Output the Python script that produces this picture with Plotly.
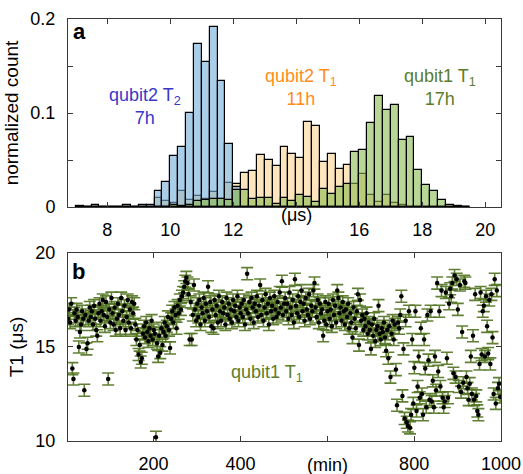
import numpy as np
import plotly.graph_objects as go

# ---------------- Data: histograms (bin width 0.25 us) ----------------
bin_left = [7.0 + 0.25 * k for k in range(50)]
# qubit2 T2 (blue)
hist_q2_t2 = [0.001, 0, 0.002, 0, 0, 0, 0.002, 0, 0.002, 0.002,
              0.017, 0.027, 0.054, 0.064, 0.100, 0.173, 0.154, 0.191, 0.134, 0.067,
              0.021, 0, 0, 0, 0, 0, 0, 0, 0, 0,
              0, 0, 0, 0, 0, 0, 0, 0, 0, 0,
              0, 0, 0, 0, 0, 0, 0, 0, 0, 0]
# qubit2 T1 (orange)
hist_q2_t1 = [0, 0, 0, 0, 0, 0, 0, 0, 0, 0,
              0.010, 0.006, 0.004, 0.017, 0.007, 0.012, 0.008, 0.016, 0.009, 0.026,
              0.024, 0.036, 0.038, 0.055, 0.050, 0.044, 0.064, 0.056, 0.052, 0.090,
              0.086, 0.048, 0.056, 0.040, 0.045, 0.025, 0.035, 0.013, 0.005, 0.013,
              0.004, 0.002, 0, 0, 0, 0, 0, 0, 0, 0]
# qubit1 T1 (green)
hist_q1_t1 = [0, 0, 0, 0, 0, 0, 0, 0, 0, 0,
              0, 0, 0.002, 0.001, 0.002, 0.006, 0.007, 0.009, 0.009, 0.007,
              0.018, 0.018, 0.0085, 0.010, 0.010, 0.003, 0.010, 0.006, 0.013, 0.011,
              0.005, 0.019, 0.014, 0.021, 0.025, 0.058, 0.061, 0.089, 0.118, 0.103,
              0.109, 0.071, 0.075, 0.039, 0.023, 0.017, 0.0075, 0.002, 0.001, 0]

# ---------------- Data: qubit1 T1 time trace ----------------
t_start, t_step = 3.0, 2.5
t1_values = [
    16.5, 17.0, 16.3, 17.3, 13.85, 13.3, 16.8, 16.4, 17.0, 16.6, 15.0, 15.8, 16.2, 16.9, 16.5, 12.7, 16.7, 14.9, 15.2, 16.4,
    17.1, 16.6, 16.9, 16.2, 17.2, 16.5, 15.9, 15.6, 16.8, 17.3, 16.4, 16.9, 17.5, 16.7, 16.1, 17.4, 16.6, 13.3, 17.0, 16.3,
    17.6, 16.8, 16.2, 17.1, 15.9, 16.5, 17.3, 16.7, 16.0, 17.6, 16.9, 16.4, 17.2, 15.9, 16.6, 17.5, 16.3, 17.0, 16.0, 17.4,
    16.8, 17.3, 16.2, 15.4, 15.9, 14.6, 15.1, 14.2, 14.4, 15.7, 16.1, 15.5, 16.3, 15.8, 15.3, 16.0, 15.6, 16.4, 15.4, 15.9,
    15.7, 10.2, 15.2, 14.5, 15.6, 14.7, 16.0, 15.1, 15.8, 16.3, 15.6, 16.1, 16.6, 15.9, 14.95, 16.5, 16.9, 16.3, 17.1, 16.7,
    16.0, 17.2, 16.8, 17.5, 17.0, 17.7, 17.9, 18.2, 18.5, 18.7, 18.4, 17.8, 15.4, 17.4, 15.4, 16.7, 18.3, 17.0, 16.4, 17.3,
    16.6, 17.5, 16.2, 17.1, 16.8, 17.6, 16.4, 17.3, 16.9, 18.2, 16.6, 17.4, 16.1, 17.0, 16.0, 17.5, 16.7, 17.2, 16.3, 17.7,
    16.9, 16.4, 17.4, 16.8, 17.1, 16.2, 17.6, 16.7, 17.3, 16.5, 17.0, 16.3, 17.5, 16.9, 17.2, 16.6, 17.7, 16.4, 17.1, 16.8,
    17.3, 16.6, 17.5, 16.2, 17.0, 18.9, 16.8, 17.4, 16.5, 17.6, 17.1, 16.3, 17.3, 16.9, 17.7, 16.6, 17.2, 18.3, 16.7, 17.5,
    16.4, 17.1, 17.8, 16.8, 17.3, 16.2, 17.6, 16.9, 17.2, 16.5, 17.7, 17.0, 16.6, 17.4, 16.8, 17.9, 17.1, 18.5, 16.7, 17.3,
    17.6, 16.9, 17.3, 16.5, 17.9, 17.1, 16.7, 17.5, 16.3, 18.6, 17.2, 16.8, 17.7, 16.6, 17.4, 18.0, 16.9, 17.3, 16.4, 17.6,
    17.0, 16.7, 17.8, 16.5, 17.2, 16.9, 18.0, 18.4, 17.1, 16.6, 17.5, 16.3, 17.3, 16.8, 17.0, 15.6, 16.4, 17.4, 16.2, 16.9,
    17.3, 16.5, 17.0, 16.1, 17.5, 16.7, 17.2, 16.3, 18.0, 17.6, 16.8, 17.1, 16.4, 17.4, 16.9, 16.2, 17.0, 16.6, 17.3, 16.0,
    16.8, 16.3, 15.5, 17.1, 16.5, 16.0, 16.9, 17.8, 15.1, 17.5, 16.4, 16.7, 15.9, 16.5, 16.1, 16.8, 15.7, 16.3, 15.9, 14.9,
    16.2, 15.6, 16.5, 15.3, 15.9, 16.1, 17.2, 15.7, 15.4, 16.0, 15.8, 16.3, 15.5, 14.8, 15.9, 14.4, 16.1, 13.4, 15.7, 16.4,
    15.4, 16.2, 13.8, 11.9, 16.3, 16.0, 16.7, 17.7, 12.4, 14.9, 11.2, 16.4, 11.0, 10.8, 16.9, 10.7, 11.4, 15.4, 12.0, 13.9,
    16.9, 11.6, 12.9, 14.5, 12.3, 16.0, 12.5, 11.4, 15.4, 13.85, 11.8, 16.7, 14.3, 12.2, 16.9, 12.1, 13.2, 11.8, 14.5, 12.7,
    18.4, 13.7, 16.9, 12.9, 18.0, 12.3, 11.8, 12.1, 17.9, 14.4, 12.3, 17.3, 18.1, 17.7, 18.4, 13.6, 18.8, 13.4, 18.6, 17.0,
    12.9, 18.3, 12.6, 15.8, 13.1, 18.5, 18.4, 13.4, 12.8, 12.2, 13.05, 14.5, 12.5, 15.6, 12.2, 17.8, 12.4, 11.6, 11.4, 14.1,
    17.9, 14.6, 16.9, 17.2, 14.5, 17.7, 16.1, 14.65, 17.5, 14.1, 17.8, 15.5, 12.5, 18.6, 12.0, 18.0, 12.8, 13.05, 12.35,
]
t1_err = 0.32
time_min = np.arange(len(t1_values)) * t_step + t_start

# ---------------- Styling ----------------
FONT = "Liberation Sans, Arial, Helvetica, sans-serif"
AX = "#3a3a3a"
centers = np.array(bin_left) + 0.125

fig = go.Figure()
series = [
    (hist_q2_t1, "rgba(250,210,143,0.6)", "qubit2 T1"),
    (hist_q2_t2, "rgba(113,173,217,0.6)", "qubit2 T2"),
    (hist_q1_t1, "rgba(137,187,80,0.6)", "qubit1 T1"),
]
for vals, col, name in series:
    fig.add_trace(go.Bar(
        x=centers, y=vals, width=0.25, name=name,
        marker=dict(color=col, line=dict(color="black", width=1.2)),
        xaxis="x", yaxis="y",
    ))

fig.add_trace(go.Scatter(
    x=time_min, y=t1_values, mode="markers", name="qubit1 T1 trace",
    marker=dict(color="black", size=4.5),
    error_y=dict(type="constant", value=t1_err, color="rgba(80,114,32,0.9)",
                 thickness=1.6, width=6),
    xaxis="x2", yaxis="y2",
))

common = dict(showline=True, linecolor=AX, linewidth=1, mirror="ticks",
              ticks="inside", ticklen=5, tickcolor=AX, showgrid=False,
              zeroline=False, automargin=False,
              tickfont=dict(family=FONT, size=18, color="black"))

fig.update_layout(
    width=523, height=474,
    margin=dict(l=68, r=22, t=19, b=33),
    paper_bgcolor="white", plot_bgcolor="white",
    barmode="overlay", bargap=0, showlegend=False,
    font=dict(family=FONT, size=18, color="black"),
    xaxis=dict(domain=[0, 1], anchor="y", range=[6.75, 20.5],
               tickvals=[8, 10, 12, 16, 18, 20],
               minor=dict(tickvals=[14], ticks="inside", ticklen=5, tickcolor=AX),
               ticklabelstandoff=6, **common),
    yaxis=dict(domain=[0.5545, 1], anchor="x", range=[0, 0.2],
               tickvals=[0, 0.1, 0.2], ticktext=["0", "0.1", "0.2"],
               minor=dict(tickvals=[0.05, 0.15], ticks="inside", ticklen=5, tickcolor=AX),
               ticklabelstandoff=8,
               title=dict(text="normalized count", font=dict(family=FONT, size=19), standoff=6),
               **common),
    xaxis2=dict(domain=[0, 1], anchor="y2", range=[3, 1000],
                tickvals=[200, 400, 800, 1000],
                minor=dict(tickvals=[600], ticks="inside", ticklen=5, tickcolor=AX),
                ticklabelstandoff=6, **common),
    yaxis2=dict(domain=[0, 0.4455], anchor="x2", range=[10, 20],
                tickvals=[10, 15, 20], ticklabelstandoff=8,
                title=dict(text="T1 (μs)", font=dict(family=FONT, size=19), standoff=6),
                **common),
)

ann = [
    dict(text="<b>a</b>", xref="x", yref="y", x=6.85, y=0.187, xanchor="left", yanchor="middle",
         font=dict(size=22, color="black")),
    dict(text="<b>b</b>", xref="x2", yref="y2", x=8, y=19.0, xanchor="left", yanchor="middle",
         font=dict(size=22, color="black")),
    dict(text="qubit2 T<sub>2</sub><br>7h", xref="x", yref="y", x=9.2, y=0.107,
         font=dict(size=18, color="#3838c8")),
    dict(text="qubit2 T<sub>1</sub><br>11h", xref="x", yref="y", x=14.16, y=0.127,
         font=dict(size=18, color="#ff8c1a")),
    dict(text="qubit1 T<sub>1</sub><br>17h", xref="x", yref="y", x=18.57, y=0.127,
         font=dict(size=18, color="#5b7d2a")),
    dict(text="(μs)", xref="x", yref="paper", x=14, y=0.535, yanchor="middle",
         font=dict(size=18, color="black")),
    dict(text="(min)", xref="x2", yref="paper", x=600, y=-0.058, yanchor="middle",
         font=dict(size=18, color="black")),
    dict(text="qubit1 T<sub>1</sub>", xref="x2", yref="y2", x=462, y=13.6,
         font=dict(size=18, color="#5b7d2a")),
]
for a in ann:
    a.setdefault("showarrow", False)
    a["font"].setdefault("family", FONT)
fig.update_layout(annotations=ann)

fig.write_html("out.html", config={"displayModeBar": False},
               post_script="document.body.style.margin='0';document.body.style.overflow='hidden';")
